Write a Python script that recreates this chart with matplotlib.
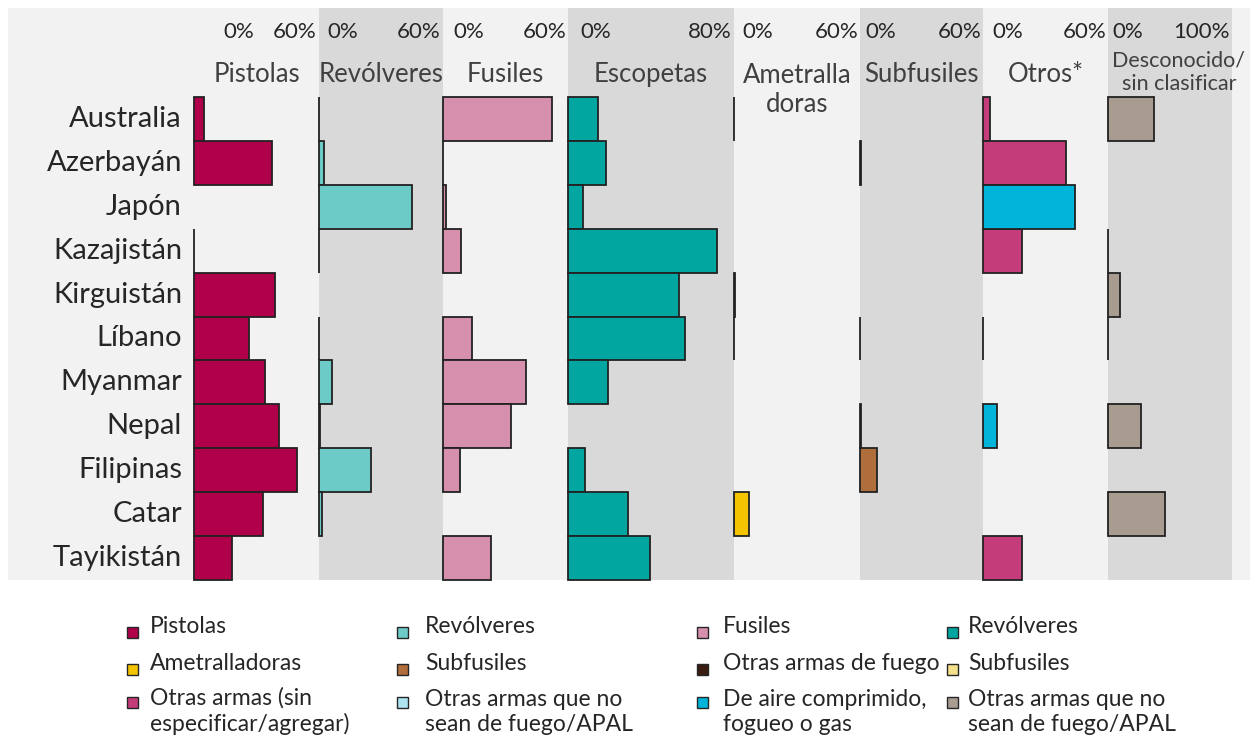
import numpy as np
import matplotlib
matplotlib.use("Agg")
import matplotlib.pyplot as plt
from matplotlib.patches import Rectangle
from matplotlib.transforms import blended_transform_factory

plt.rcParams['font.family'] = ['Lato', 'DejaVu Sans']

nan = np.nan

# Países (filas, de arriba abajo)
paises = ["Australia", "Azerbayán", "Japón", "Kazajistán", "Kirguistán", "Líbano",
          "Myanmar", "Nepal", "Filipinas", "Catar", "Tayikistán"]

# Porcentajes por tipo de arma (nan = sin dato)
pistolas = [6.1, 45.3, nan, 0, 47.1, 31.7, 41.3, 49.4, 59.7, 40.3, 22.3]
revolveres = [0, 2.7, 54.1, 0, nan, 0, 7.6, 0.6, 30.5, 2.0, nan]
fusiles = [63.2, 0, 1.7, 10.3, nan, 16.9, 48.1, 39.7, 9.9, nan, 27.7]
escopetas = [17.2, 22.1, 8.9, 86.9, 64.5, 68.0, 23.0, nan, 10.1, 35.1, 47.7]
ametralladoras = [0, nan, nan, nan, 0.6, 0, nan, nan, nan, 8.7, nan]
subfusiles = [nan, 0.5, nan, nan, nan, 0, nan, 0.6, 9.9, nan, nan]
otras_sin_especificar = [3.9, 48.4, nan, 22.9, nan, nan, nan, nan, nan, nan, 22.7]
aire_comprimido = [nan, nan, 53.3, nan, nan, nan, nan, 8.1, nan, nan, nan]
otras_de_fuego = [nan, nan, nan, nan, nan, 0, nan, nan, nan, nan, nan]
desconocido = [43.4, nan, nan, 0, 11.0, 0, nan, 30.8, nan, 54.1, nan]

paneles = ["Pistolas", "Revólveres", "Fusiles", "Escopetas", "Ametralla\ndoras",
           "Subfusiles", "Otros*", "Desconocido/\nsin clasificar"]
etiqueta_max = ["60%", "60%", "60%", "80%", "60%", "60%", "60%", "100%"]

colores = {
    "pistolas": "#b0004a",
    "revolveres": "#6ccbc6",
    "fusiles": "#d68fac",
    "escopetas": "#00a69f",
    "ametralladoras": "#f5c400",
    "subfusiles": "#b06e3c",
    "otras_sin": "#c43d7a",
    "aire": "#00b5d9",
    "otras_fuego": "#3a1c10",
    "desconocido": "#a89c90",
    "no_fuego": "#aee3f0",
    "subfusiles_claro": "#f5e08c",
}

series_panel = [
    [(pistolas, colores["pistolas"])],
    [(revolveres, colores["revolveres"])],
    [(fusiles, colores["fusiles"])],
    [(escopetas, colores["escopetas"])],
    [(ametralladoras, colores["ametralladoras"])],
    [(subfusiles, colores["subfusiles"])],
    [(otras_sin_especificar, colores["otras_sin"]),
     (aire_comprimido, colores["aire"]),
     (otras_de_fuego, colores["otras_fuego"])],
    [(desconocido, colores["desconocido"])],
]

leyenda_etiquetas = [
    "Pistolas", "Ametralladoras", "Otras armas (sin\nespecificar/agregar)",
    "Revólveres", "Subfusiles", "Otras armas que no\nsean de fuego/APAL",
    "Fusiles", "Otras armas de fuego", "De aire comprimido,\nfogueo o gas",
    "Revólveres", "Subfusiles", "Otras armas que no\nsean de fuego/APAL",
]
leyenda_colores = [
    colores["pistolas"], colores["ametralladoras"], colores["otras_sin"],
    colores["revolveres"], colores["subfusiles"], colores["no_fuego"],
    colores["fusiles"], colores["otras_fuego"], colores["aire"],
    colores["escopetas"], colores["subfusiles_claro"], colores["desconocido"],
]

# --- maquetación en píxeles ---
W, H = 1250, 737
bordes = [194, 319, 443, 568, 734, 860, 983, 1108, 1232]
px_por_pct = [1.72] * 7 + [1.06]
y_sup, y_inf = 97, 580
x_cero = [223, 327, 453, 580, 742, 865, 992, 1112]


def fx(x):
    return x / W


def fy(y):
    return 1 - y / H


fig = plt.figure(figsize=(W / 100, H / 100), dpi=100)

# fondo gris claro y bandas alternas más oscuras
fig.add_artist(Rectangle((fx(8), fy(580)), fx(W - 8), (580 - 8) / H,
                         transform=fig.transFigure, facecolor="#f2f2f2",
                         edgecolor="none", zorder=-2))
for i in range(1, 8, 2):
    izq, der = bordes[i], bordes[i + 1]
    fig.add_artist(Rectangle((fx(izq), fy(580)), (der - izq) / W, (580 - 8) / H,
                             transform=fig.transFigure, facecolor="#d9d9d9",
                             edgecolor="none", zorder=-1))

filas = np.arange(len(paises))
ejes = []
for i, titulo in enumerate(paneles):
    izq, der = bordes[i], bordes[i + 1]
    ax = fig.add_axes([fx(izq), fy(y_inf), (der - izq) / W, (y_inf - y_sup) / H])
    ax.set_xlim(0, (der - izq) / px_por_pct[i])
    ax.set_ylim(len(paises) - 0.5, -0.5)
    ax.axis("off")
    for valores, color in series_panel[i]:
        ax.barh(filas, valores, height=1.0, color=color, edgecolor="#222222",
                linewidth=1.3, clip_on=False)
    ejes.append(ax)

    # escala superior
    fig.text(fx(x_cero[i]), fy(38), "0%", ha="left", va="baseline",
             fontsize=16, color="#262626")
    fig.text(fx(der - 2), fy(38), etiqueta_max[i], ha="right", va="baseline",
             fontsize=16, color="#262626")

    # nombre del tipo de arma (va='baseline' se refiere a la última línea)
    if i == 7:
        fig.text(fx(1179), fy(90), titulo, ha="center", va="baseline",
                 fontsize=15.5, color="#404040", linespacing=1.2)
    elif i == 4:
        fig.text(fx((izq + der) / 2), fy(112), titulo, ha="center", va="baseline",
                 fontsize=18.5, color="#404040", linespacing=1.2)
    else:
        fig.text(fx((izq + der) / 2), fy(82), titulo, ha="center", va="baseline",
                 fontsize=18.5, color="#404040")

# nombres de países
trans = blended_transform_factory(fig.transFigure, ejes[0].transData)
for i, pais in enumerate(paises):
    ejes[0].text(fx(182), i, pais, transform=trans, ha="right", va="center",
                 fontsize=21, color="#262626")

# leyenda
x_marca = [127, 397, 697, 947]
x_texto = [150, 425, 723, 968]
y_marca = [633, 670, 703]
y_texto = [633, 670, 731]
for k, (etq, col) in enumerate(zip(leyenda_etiquetas, leyenda_colores)):
    c, r = divmod(k, 3)
    fig.add_artist(Rectangle((fx(x_marca[c]), fy(y_marca[r] + 5)), 11 / W, 11 / H,
                             transform=fig.transFigure, facecolor=col,
                             edgecolor="#262626", linewidth=1.0))
    fig.text(fx(x_texto[c]), fy(y_texto[r]), etq, ha="left", va="baseline",
             fontsize=16.5, color="#262626", linespacing=1.22)

fig.savefig("out.png", dpi=100, facecolor="white")
